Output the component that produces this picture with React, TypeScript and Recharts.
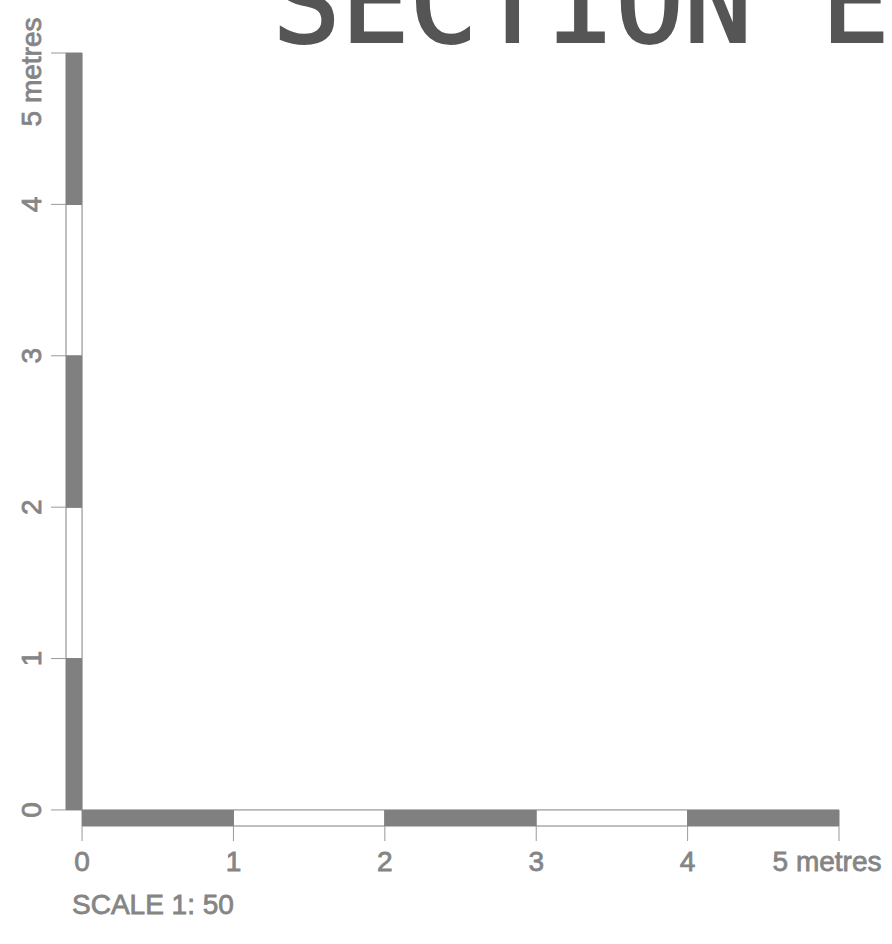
import React from 'react';
import { ComposedChart, XAxis, YAxis, ReferenceArea } from 'recharts';

// scale bar: five 1-metre segments on each side, alternating shaded / blank
const scaleTicks = [0, 1, 2, 3, 4, 5];
const tickLabels = ['0', '1', '2', '3', '4', '5 metres'];
const segmentStarts = [0, 1, 2, 3, 4];
const segmentShaded = [true, false, true, false, true];
const barDepth = 0.106; // thickness of the bar, in metres

const GREY = '#808080';
const LABEL = '#858585';
const FONT = '"Liberation Sans", Arial, sans-serif';

// regular face with a thin outline, a little heavier than plain Arial
const labelStyle = {
  fill: LABEL,
  stroke: LABEL,
  strokeWidth: 0.8,
  fontSize: 28,
  fontFamily: FONT,
};

const XTick = (props: any) => {
  const { x, y, payload, index } = props;
  const shift = index === tickLabels.length - 1 ? -12 : 0;
  return (
    <text x={x + shift} y={y + 30} textAnchor="middle" {...labelStyle}>
      {tickLabels[scaleTicks.indexOf(payload.value)]}
    </text>
  );
};

const YTick = (props: any) => {
  const { x, y, payload, index } = props;
  const shift = index === tickLabels.length - 1 ? -19 : 0;
  return (
    <g transform={`translate(${x - 10},${y}) rotate(-90)`}>
      <text x={shift} textAnchor="middle" {...labelStyle}>
        {tickLabels[scaleTicks.indexOf(payload.value)]}
      </text>
    </g>
  );
};

export default function App() {
  return (
    <div style={{ position: 'absolute', left: 0, top: 0, background: '#fff' }}>
      <ComposedChart width={892} height={944} margin={{ top: 53, right: 53, bottom: 58, left: 36 }}>
        <XAxis
          type="number"
          dataKey="x"
          domain={[-barDepth, 5]}
          ticks={scaleTicks}
          interval={0}
          allowDataOverflow
          axisLine={false}
          tickLine={{ stroke: '#999', strokeWidth: 1 }}
          tickSize={15}
          tickMargin={0}
          height={60}
          tick={<XTick />}
        />
        <YAxis
          type="number"
          dataKey="y"
          domain={[-barDepth, 5]}
          ticks={scaleTicks}
          interval={0}
          allowDataOverflow
          axisLine={false}
          tickLine={{ stroke: '#999', strokeWidth: 1 }}
          tickSize={15}
          tickMargin={0}
          width={30}
          tick={<YTick />}
        />
        {segmentStarts.map((s, i) => (
          <ReferenceArea
            key={`x${i}`}
            x1={s}
            x2={s + 1}
            y1={-barDepth}
            y2={0}
            fill={segmentShaded[i] ? GREY : '#fff'}
            fillOpacity={1}
            stroke={GREY}
            strokeWidth={1}
            ifOverflow="visible"
          />
        ))}
        {segmentStarts.map((s, i) => (
          <ReferenceArea
            key={`y${i}`}
            x1={-barDepth}
            x2={0}
            y1={s}
            y2={s + 1}
            fill={segmentShaded[i] ? GREY : '#fff'}
            fillOpacity={1}
            stroke={GREY}
            strokeWidth={1}
            ifOverflow="visible"
          />
        ))}
        <text
          x={272}
          y={42}
          fill="#555555"
          stroke="#555555"
          strokeWidth={2}
          fontSize={114}
          fontFamily='"DejaVu Sans Mono", monospace'
        >
          SECTION E-E
        </text>
        <text x={72} y={914} {...labelStyle}>
          SCALE 1: 50
        </text>
      </ComposedChart>
    </div>
  );
}
